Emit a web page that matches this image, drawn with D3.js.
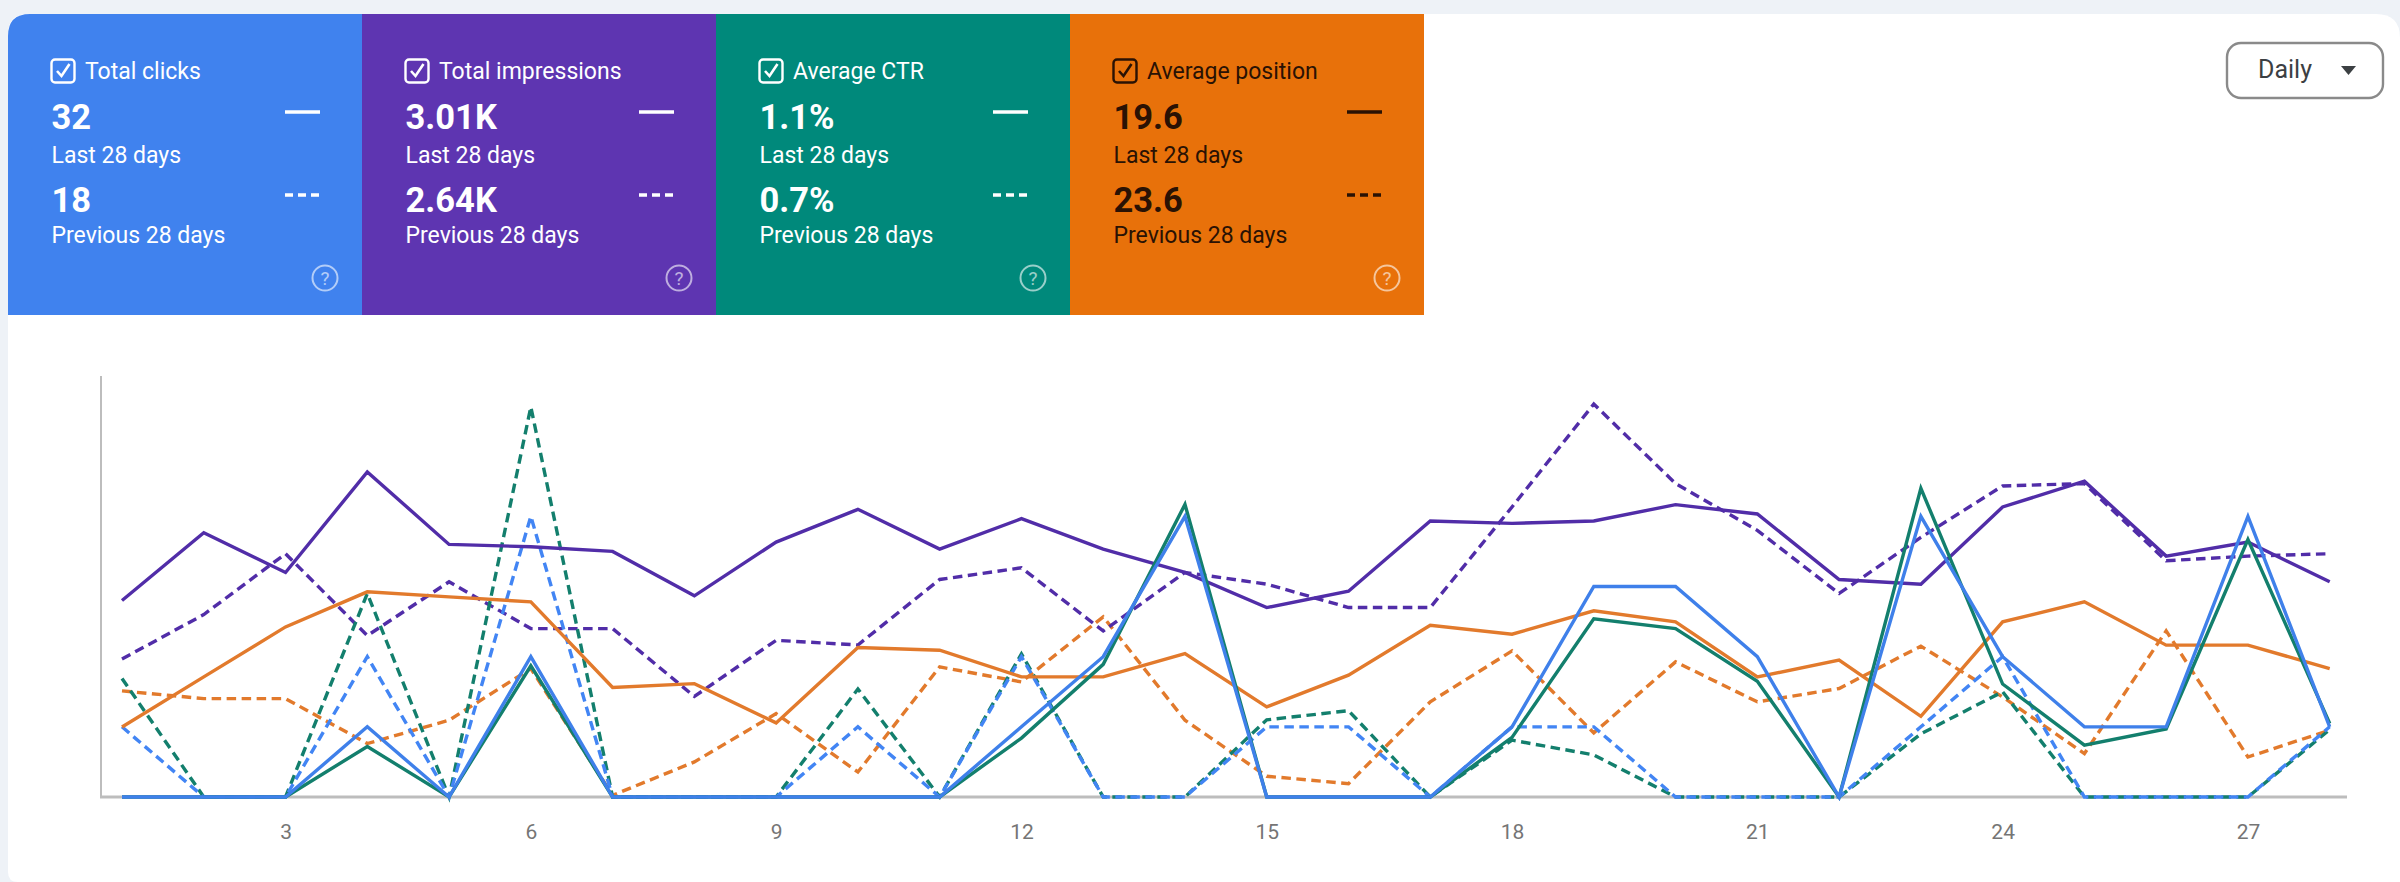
<!DOCTYPE html>
<html><head><meta charset="utf-8">
<script src="https://cdn.jsdelivr.net/npm/d3@7/dist/d3.min.js"></script>
<style>html,body{margin:0;padding:0;background:#fff;overflow:hidden}svg{display:block}text{font-family:Roboto,sans-serif}</style>
</head><body><svg id="c" width="2400" height="882"></svg>
<script>
const days = d3.range(1, 29);
const tickDays = [3, 6, 9, 12, 15, 18, 21, 24, 27];

const clicksNow  = [0,0,0,1,0,2,0,0,0,0,0,1,2,4,0,0,0,1,3,3,2,0,4,2,1,1,4,1];
const clicksPrev = [1,0,0,2,0,4,0,0,0,1,0,2,0,0,1,1,0,1,1,0,0,0,1,2,0,0,0,1];
const imprNow  = [84,113,96,139,108,107,105,86,109,123,106,119,106,96,81,88,118,117,118,125,121,93,91,124,135,103,109,92];
const imprPrev = [59,78,104,69,92,72,72,43,67,65,93,98,71,96,91,81,81,124,168,134,114,87,111,133,134,101,103,104];
const ctrNow  = [0,0,0,0.72,0,1.87,0,0,0,0,0,0.84,1.89,4.17,0,0,0,0.85,2.54,2.4,1.65,0,4.4,1.61,0.74,0.97,3.67,1.05];
const ctrPrev = [1.69,0,0,2.9,0,5.56,0,0,0,1.54,0,2.04,0,0,1.1,1.23,0,0.81,0.6,0,0,0,0.9,1.5,0,0,0,0.96];
const posNow  = [25.01,21.44,17.88,15.38,15.74,16.09,22.2,21.92,24.72,19.35,19.54,21.44,21.44,19.78,23.58,21.32,17.76,18.4,16.73,17.52,21.44,20.25,24.25,17.52,16.09,19.18,19.18,20.85];
const posPrev = [22.44,22.99,22.99,26.19,24.53,20.85,29.88,27.5,24.06,28.22,20.73,21.8,17.16,24.53,28.52,29.05,23.22,19.59,25.43,20.37,23.22,22.27,19.25,22.87,26.91,18.16,27.15,25.24];

const cardTitles = ["Total clicks", "Total impressions", "Average CTR", "Average position"];
const cardNow  = ["32", "3.01K", "1.1%", "19.6"];
const cardPrev = ["18", "2.64K", "0.7%", "23.6"];
const cardFills = ["#4082ee", "#5e35b1", "#00897b", "#e8710a"];
const cardInk   = ["#ffffff", "#ffffff", "#ffffff", "#2a1204"];
const lastLabel = "Last 28 days", prevLabel = "Previous 28 days";
const intervalLabel = "Daily";

const svg = d3.select("#c");
svg.append("rect").attr("width", 2400).attr("height", 882).attr("fill", "#eef2f7");
svg.append("path").attr("fill", "#fff")
  .attr("d", "M8 34 Q8 14 28 14 H2376 Q2400 14 2400 38 V882 H18 Q8 882 8 872 Z");

/* cards */
const cardW = 354, cardX0 = 8, cardY = 14, cardH = 301;
const cards = svg.append("g").selectAll("g").data(cardTitles).join("g")
  .attr("transform", (d, i) => `translate(${cardX0 + i * cardW},${cardY})`);
cards.append("path").attr("fill", (d, i) => cardFills[i])
  .attr("d", (d, i) => i === 0
    ? `M0 ${cardH} V22 Q0 0 22 0 H${cardW} V${cardH} Z`
    : `M0 0 H${cardW} V${cardH} H0 Z`);
const txt = (sel, x, y, size, weight, f) => sel.append("text").attr("x", x).attr("y", y)
  .attr("font-size", size).attr("font-weight", weight).attr("fill", (d, i) => cardInk[i]).text(f);
cards.append("rect").attr("x", 43.5).attr("y", 45.5).attr("width", 23).attr("height", 23).attr("rx", 3.5)
  .attr("fill", "none").attr("stroke-width", 2.4).attr("stroke", (d, i) => cardInk[i]);
cards.append("path").attr("d", "M49 57 L53.5 62 L61.5 50").attr("fill", "none").attr("stroke-width", 2.6)
  .attr("stroke", (d, i) => cardInk[i]);
txt(cards, 77, 65, 23, 400, d => d);
txt(cards, 43.5, 115, 34.5, 700, (d, i) => cardNow[i]);
txt(cards, 43.5, 149, 23, 400, lastLabel);
txt(cards, 43.5, 198, 34.5, 700, (d, i) => cardPrev[i]);
txt(cards, 43.5, 229, 23, 400, prevLabel);
cards.append("line").attr("x1", 277).attr("x2", 312).attr("y1", 98).attr("y2", 98).attr("stroke-width", 3.6)
  .attr("stroke", (d, i) => cardInk[i]);
cards.append("line").attr("x1", 277).attr("x2", 311).attr("y1", 181).attr("y2", 181).attr("stroke-width", 3.6)
  .attr("stroke-dasharray", "8 5").attr("stroke", (d, i) => cardInk[i]);
const help = cards.append("g").attr("transform", "translate(317,264)").attr("opacity", 0.6);
help.append("circle").attr("r", 12.5).attr("fill", "none").attr("stroke-width", 2).attr("stroke", "#fff");
help.append("text").attr("text-anchor", "middle").attr("y", 7).attr("font-size", 19).attr("fill", "#fff").text("?");

/* interval button */
svg.append("rect").attr("x", 2227).attr("y", 43).attr("width", 156).attr("height", 55).attr("rx", 14)
  .attr("fill", "#fff").attr("stroke", "#8a8a8a").attr("stroke-width", 2.4);
svg.append("text").attr("x", 2258).attr("y", 78).attr("font-size", 25).attr("font-family", "Roboto")
  .attr("fill", "#3c4043").text(intervalLabel);
svg.append("path").attr("d", "M2341 66 H2356 L2348.5 75 Z").attr("fill", "#3c4043");

/* chart */
const top_ = 376, base = 797;
const x = d3.scaleLinear().domain([1, 28]).range([122, 2329.7]);
const yClicks = d3.scaleLinear().domain([0, 6]).range([base, top_]);
const yImpr = d3.scaleLinear().domain([0, 180]).range([base, top_]);
const yCtr = d3.scaleLinear().domain([0, 6]).range([base, top_]);
const yPos = d3.scaleLinear().domain([0, 30]).range([top_, base]);

svg.append("line").attr("x1", 101).attr("x2", 101).attr("y1", top_).attr("y2", base)
  .attr("stroke", "#bdbdbd").attr("stroke-width", 2);
const ax = svg.append("g").attr("transform", `translate(0,${base})`)
  .call(d3.axisBottom(x).tickValues(tickDays).tickSize(0).tickPadding(27).tickFormat(d3.format("d")));
ax.select(".domain").remove();
ax.selectAll("text").attr("font-size", 21).attr("font-family", "Roboto").attr("fill", "#757575");
svg.append("line").attr("x1", 100).attr("x2", 2347).attr("y1", base).attr("y2", base)
  .attr("stroke", "#bdbdbd").attr("stroke-width", 3);

const series = [
  [posPrev, yPos, "#e27a2c", true], [imprPrev, yImpr, "#512da8", true],
  [ctrPrev, yCtr, "#137f6d", true], [clicksPrev, yClicks, "#4285f4", true],
  [posNow, yPos, "#e27a2c", false], [imprNow, yImpr, "#512da8", false],
  [ctrNow, yCtr, "#137f6d", false], [clicksNow, yClicks, "#3f80ea", false]
];
svg.append("g").attr("fill", "none").attr("stroke-linejoin", "miter").selectAll("path").data(series).join("path")
  .attr("stroke", d => d[2]).attr("stroke-width", 3.4)
  .attr("stroke-dasharray", d => d[3] ? "9.5 5.5" : null)
  .attr("d", d => d3.line().x((v, i) => x(days[i])).y(v => d[1](v))(d[0]));
</script></body></html>
